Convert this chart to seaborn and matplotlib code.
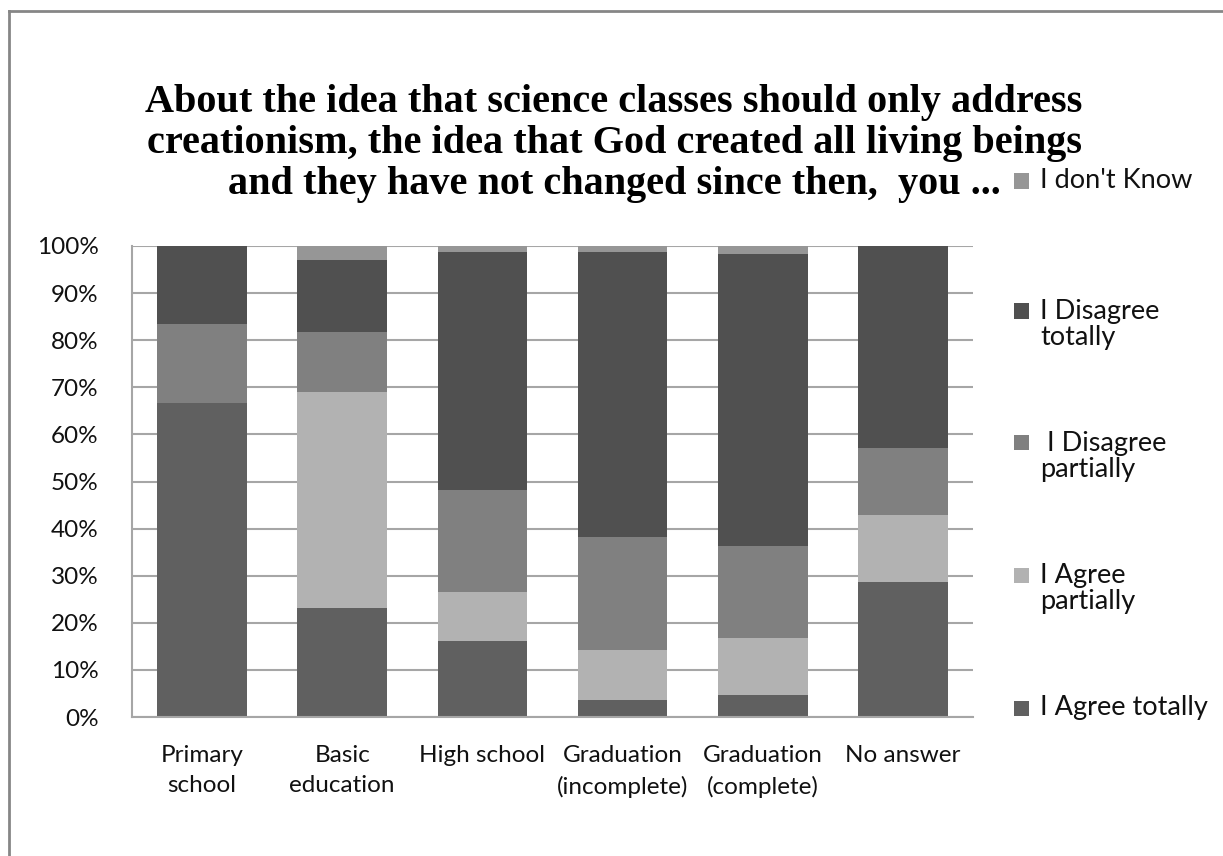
import matplotlib
matplotlib.use("Agg")
import matplotlib.pyplot as plt
import seaborn as sns
from matplotlib.patches import Rectangle
from matplotlib.lines import Line2D

# ---- data ----
categories = ["Primary\nschool", "Basic\neducation", "High school",
              "Graduation\n(incomplete)", "Graduation\n(complete)", "No answer"]
agree_totally = [66.7, 23.1, 16.1, 3.7, 4.7, 28.6]
agree_partially = [0.0, 46.0, 10.4, 10.6, 12.0, 14.3]
disagree_partially = [16.7, 12.7, 21.8, 24.0, 19.5, 14.3]
disagree_totally = [16.6, 15.3, 50.4, 60.4, 62.0, 42.8]
dont_know = [0.0, 2.9, 1.3, 1.3, 1.8, 0.0]

series_names = ["I Agree totally", "I Agree partially", " I Disagree partially",
                "I Disagree totally", "I don't Know"]
series_values = [agree_totally, agree_partially, disagree_partially,
                 disagree_totally, dont_know]
series_colors = ["#606060", "#b2b2b2", "#808080", "#505050", "#969696"]

yticks = list(range(0, 101, 10))
ytick_labels = [f"{v}%" for v in yticks]

title_lines = ["About the idea that science classes should only address",
               "creationism, the idea that God created all living beings",
               "and they have not changed since then,  you ..."]

legend_entries = [("I don't Know", ["I don't Know"]),
                  ("I Disagree totally", ["I Disagree", "totally"]),
                  (" I Disagree partially", [" I Disagree", "partially"]),
                  ("I Agree partially", ["I Agree", "partially"]),
                  ("I Agree totally", ["I Agree totally"])]
legend_colors = ["#969696", "#505050", "#808080", "#b2b2b2", "#606060"]

# ---- figure ----
W, H = 1223, 856
fig = plt.figure(figsize=(W / 100, H / 100), dpi=100)
fig.patch.set_facecolor("white")

def fx(px):
    return px / W

def fy(py):
    return 1 - py / H

ax = fig.add_axes([fx(132), fy(717), fx(973) - fx(132), fy(246) - fy(717)])

bottoms = [0.0] * len(categories)
for name, vals, col in zip(series_names, series_values, series_colors):
    sns.barplot(x=categories, y=vals, order=categories, bottom=bottoms,
                color=col, saturation=1, width=0.64, errorbar=None,
                linewidth=0, ax=ax)
    bottoms = [b + v for b, v in zip(bottoms, vals)]

ax.set_xlim(-0.5, len(categories) - 0.5)
ax.set_ylim(0, 100)
ax.set_yticks(yticks)
ax.set_yticklabels(ytick_labels)
ax.set_xlabel("")
ax.set_ylabel("")

grid_col = "#a6a6a6"
ax.set_axisbelow(True)
ax.yaxis.grid(True, color=grid_col, linewidth=1.5)
ax.xaxis.grid(False)
for s in ["top", "right"]:
    ax.spines[s].set_visible(False)
for s in ["left", "bottom"]:
    ax.spines[s].set_color(grid_col)
    ax.spines[s].set_linewidth(1.5)

text_col = "#111111"
ax.tick_params(axis="both", length=0)
ax.tick_params(axis="y", pad=24)
ax.tick_params(axis="x", pad=20)
for lab in ax.get_yticklabels() + ax.get_xticklabels():
    lab.set_fontfamily(["Lato", "DejaVu Sans"])
    lab.set_fontsize(17.5)
    lab.set_color(text_col)
for lab in ax.get_xticklabels():
    lab.set_linespacing(1.55)

# ---- title ----
title_baselines = [112, 153, 194]
for line, yb in zip(title_lines, title_baselines):
    fig.text(fx(614), fy(yb), line, ha="center", va="baseline",
             family=["Liberation Serif", "DejaVu Serif"], weight="bold",
             size=29, color="black")

# ---- legend ----
legend_line_y = [[181], [311, 338], [443, 470], [575, 602], [708]]
sq = 15
for (full, lines), col, ys in zip(legend_entries, legend_colors, legend_line_y):
    fig.add_artist(Rectangle((fx(1014), fy(ys[0] + sq / 2)), sq / W, sq / H,
                             transform=fig.transFigure, facecolor=col,
                             edgecolor="none"))
    for ln, y in zip(lines, ys):
        fig.text(fx(1040), fy(y), ln, ha="left", va="center",
                 family=["Lato", "DejaVu Sans"], size=19.5, color=text_col)

# ---- chart border (partially visible frame) ----
border_col = "#868686"
fig.add_artist(Line2D([fx(9), fx(9)], [fy(11), fy(856)], transform=fig.transFigure,
                      color=border_col, linewidth=2))
fig.add_artist(Line2D([fx(9), fx(1223)], [fy(11), fy(11)], transform=fig.transFigure,
                      color=border_col, linewidth=2))

fig.savefig("out.png", dpi=100, facecolor="white")
